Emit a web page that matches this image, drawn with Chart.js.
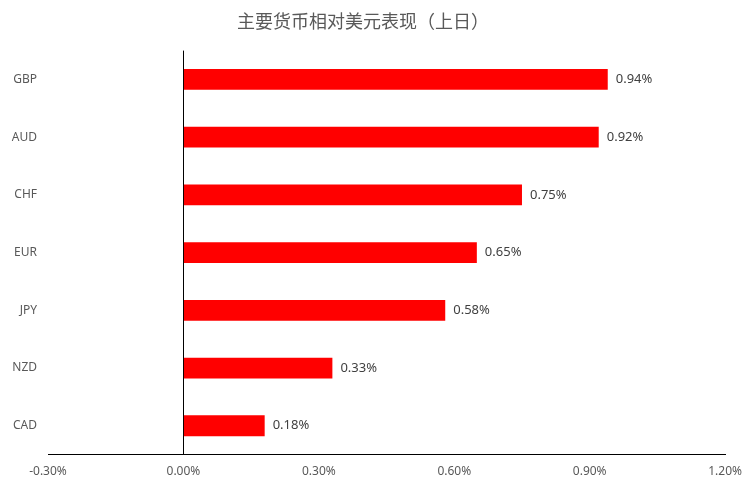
<!DOCTYPE html>
<html>
<head>
<meta charset="utf-8">
<script src="https://cdn.jsdelivr.net/npm/chart.js@4/dist/chart.umd.min.js"></script>
<style>
  html, body { margin: 0; padding: 0; background: #fff; }
  #wrap { width: 752px; height: 491px; }
</style>
</head>
<body>
<div id="wrap"><canvas id="fxChart"></canvas></div>
<script>
const currencies = ['GBP', 'AUD', 'CHF', 'EUR', 'JPY', 'NZD', 'CAD'];
const changes = [0.94, 0.92, 0.75, 0.65, 0.58, 0.33, 0.18];
const xTicks = [-0.3, 0, 0.3, 0.6, 0.9, 1.2];

const pct = (v) => v.toFixed(2) + '%';

// value labels at the end of each bar
const barLabels = {
  id: 'barLabels',
  afterDatasetsDraw(chart) {
    const ctx = chart.ctx;
    const meta = chart.getDatasetMeta(0);
    ctx.save();
    ctx.font = '13px "Noto Sans", sans-serif';
    ctx.fillStyle = '#404040';
    ctx.textAlign = 'left';
    ctx.textBaseline = 'middle';
    meta.data.forEach((bar, i) => {
      ctx.fillText(pct(changes[i]), bar.x + 8, bar.y);
    });
    ctx.restore();
  }
};

new Chart(document.getElementById('fxChart'), {
  type: 'bar',
  data: {
    labels: currencies,
    datasets: [{
      data: changes,
      backgroundColor: '#ff0000',
      borderWidth: 0,
      barPercentage: 0.36,
      categoryPercentage: 1
    }]
  },
  options: {
    indexAxis: 'y',
    responsive: true,
    maintainAspectRatio: false,
    animation: false,
    layout: { padding: { top: 10, right: 26, bottom: 2, left: 0 } },
    plugins: {
      legend: { display: false },
      tooltip: { enabled: false },
      title: {
        display: true,
        text: '主要货币相对美元表现（上日）',
        color: '#595959',
        font: { family: '"Noto Sans CJK SC", sans-serif', size: 18, weight: 'normal' },
        padding: { top: 0, bottom: 19 }
      }
    },
    scales: {
      x: {
        min: xTicks[0],
        max: xTicks[xTicks.length - 1],
        afterBuildTicks: (scale) => { scale.ticks = xTicks.map((v) => ({ value: v })); },
        grid: {
          drawTicks: false,
          color: (c) => (c.tick && Math.abs(c.tick.value) < 1e-9 ? '#000' : 'rgba(0,0,0,0)'),
          lineWidth: 1
        },
        border: { display: true, color: '#000', width: 1 },
        ticks: {
          padding: 10,
          color: '#595959',
          font: { family: '"Noto Sans", sans-serif', size: 12 },
          callback: (v) => pct(v)
        }
      },
      y: {
        afterFit: (scale) => { scale.width = 48; },
        grid: { display: false, drawTicks: false },
        border: { display: false },
        ticks: {
          padding: 11,
          color: '#595959',
          font: { family: '"Noto Sans", sans-serif', size: 12 }
        }
      }
    }
  },
  plugins: [barLabels]
});
</script>
</body>
</html>
